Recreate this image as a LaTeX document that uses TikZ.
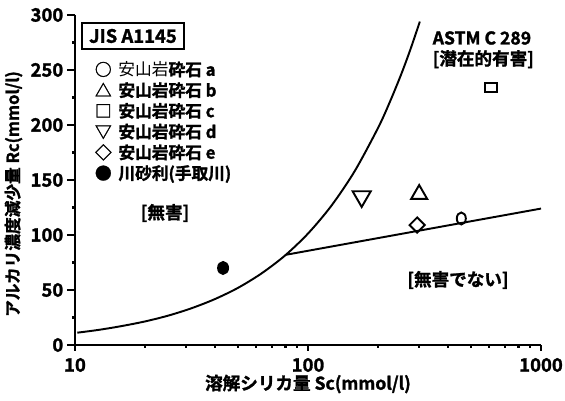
\documentclass[tikz,border=0pt]{standalone}
\usepackage{fontspec}
\setmainfont{Noto Sans CJK JP}[BoldFont={Noto Sans CJK JP Bold}, BoldFeatures={FakeBold=1.5}]
\usetikzlibrary{shapes.geometric,positioning}

\newcommand{\legsym}[1]{\makebox[0.47cm][l]{#1}}

\begin{document}
\begin{tikzpicture}[
		line width=1.1pt,
		sym/.style={draw, line width=1.1pt, inner sep=0pt},
		tri/.style={sym, regular polygon, regular polygon sides=3},
		ticklab/.style={font=\bfseries\fontsize{10.5}{12}\selectfont, inner sep=1pt},
		legend/.style={font=\bfseries\fontsize{9.5}{10}\selectfont, inner sep=0pt,
			text height=7.5pt, text depth=3.2pt, anchor=west},
		zone/.style={font=\bfseries\fontsize{10}{12}\selectfont, inner sep=1pt},
		axislab/.style={font=\bfseries\fontsize{10}{12}\selectfont, inner sep=1pt}
		]
		\useasboundingbox (0,0) rectangle (11.3,8);
		
		% Axes, log scale in x
		\begin{scope}[shift={(1.5,1.1)}, x=4.66cm, y=0.022cm]
			\draw[line width=1.7pt] (0,300) -- (0,0) -- (2,0);
			\foreach \v in {0,50,...,300} {
				\draw[line width=1.3pt] (0,\v) -- ++(-0.16cm,0);
				\node[ticklab, anchor=east] at ([xshift=-0.18cm]0,\v) {\v};
			}
			\foreach \v in {25,75,...,275}
				\draw[line width=1.3pt] (0,\v) -- ++(-0.07cm,0);
			\foreach \d/\t in {0/10,1/100,2/1000} {
				\draw[line width=1.3pt] (\d,0) -- ++(0,-0.12cm);
				\node[ticklab] at ([yshift=-0.4cm]\d,0) {\t};
			}
			\foreach \d in {0,1}
				\foreach \m in {2,...,9}
					\draw[line width=1.3pt] ({\d+log10(\m)},0) -- ++(0,-0.06cm);
			
			% ASTM C 289 boundary
			\draw plot[smooth] coordinates {(0.01,11.2) (0.1,13.7) (0.2,17.2) (0.3,21.4)
				(0.4,26.7) (0.5,33.4) (0.6,41.7) (0.7,52) (0.8,65) (0.9,81.1) (1.0,101.3)
				(1.1,126.5) (1.2,157.9) (1.3,197.1) (1.35,220.3) (1.4,246.1) (1.44,269) (1.48,294)};
			\coordinate (lineA) at (0.905,82);
			\coordinate (lineB) at (2,124);
			\draw (lineA) -- (lineB);
			
			% Measured aggregates
			\node[sym, ellipse, minimum width=0.18cm, minimum height=0.24cm] (ptA) at ({log10(455)-1},115) {};
			\node[tri, minimum size=0.37cm] (ptB) at ({log10(300)-1},137) {};
			\node[sym, rectangle, minimum width=0.24cm, minimum height=0.18cm] (ptC) at ({log10(610)-1},234) {};
			\node[tri, shape border rotate=180, minimum size=0.42cm] (ptD) at ({log10(170)-1},135) {};
			\node[sym, diamond, minimum width=0.32cm, minimum height=0.32cm] (ptE) at ({log10(294)-1},109) {};
			\node[sym, ellipse, fill=black, minimum width=0.2cm, minimum height=0.24cm] (ptF) at ({log10(43.2)-1},70) {};
		\end{scope}
		
		% Legend
		\node[draw, line width=1.1pt, ticklab, minimum width=2.04cm, minimum height=0.52cm] (jis) at (2.66,7.28) {JIS A1145};
		\node[legend] (legA) at (1.88,6.56) {\legsym{○}{\mdseries 安山岩}砕石 a};
		\node[legend, below=0pt of legA.south west, anchor=north west] (legB) {\legsym{△}安山岩砕石 b};
		\node[legend, below=0pt of legB.south west, anchor=north west] (legC) {\legsym{□}安山岩砕石 c};
		\node[legend, below=0pt of legC.south west, anchor=north west] (legD) {\legsym{▽}安山岩砕石 d};
		\node[legend, below=0pt of legD.south west, anchor=north west] (legE) {\legsym{◇}安山岩砕石 e};
		\node[legend, below=0pt of legE.south west, anchor=north west] (legF) {\legsym{●}川砂利(手取川)};
		
		% Zones
		\node[zone, anchor=west] (astm) at (8.6,7.24) {ASTM C 289};
		\node[zone, below=0pt of astm.south west, anchor=north west] (risk) {[潜在的有害]};
		\node[zone] (safe) at (3.3,3.74) {[無害]};
		\node[zone] (unsafe) at (9.16,2.4) {[無害でない]};
		
		% Axis titles
		\node[axislab] (xlab) at (6.16,0.32) {溶解シリカ量 Sc(mmol/l)};
		\node[axislab, font=\bfseries\fontsize{9.5}{12}\selectfont, rotate=90] (ylab) at (0.27,4.12) {アルカリ濃度減少量 Rc(mmol/l)};
\end{tikzpicture}
\end{document}
